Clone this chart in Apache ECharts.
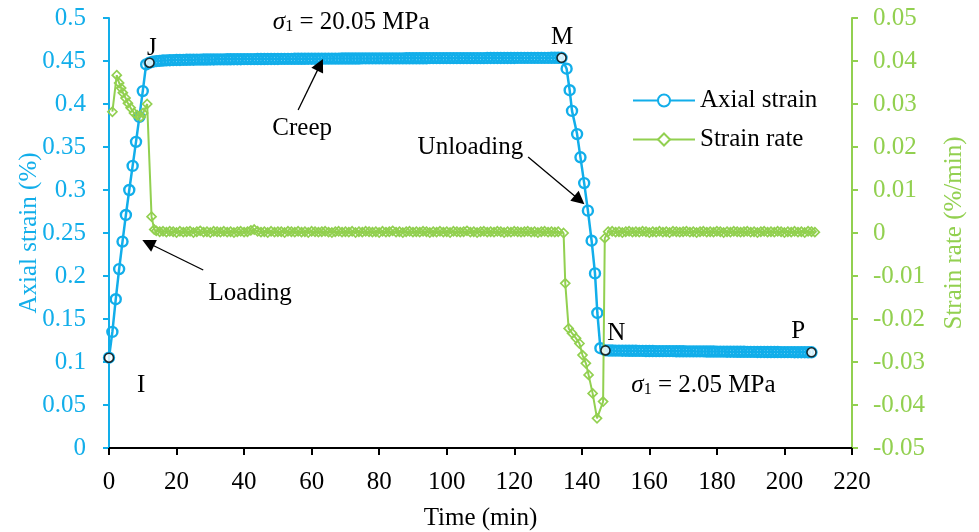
<!DOCTYPE html>
<html>
<head>
<meta charset="utf-8">
<script src="https://cdn.jsdelivr.net/npm/echarts@6/dist/echarts.min.js"></script>
<style>
  html, body { margin: 0; padding: 0; background: #fff; }
  #chart { width: 979px; height: 532px; }
</style>
</head>
<body>
<div id="chart"></div>
<script>
// ---- Axis ranges ----
const timeAxis = [0, 220, 20];          // min, max, step (min)
const strainAxis = [0, 0.5, 0.05];      // axial strain (%)
const rateAxis = [-0.05, 0.05, 0.01];   // strain rate (%/min)

// ---- Axial strain (%) ----
// loading stage
const loadTime   = [0, 1, 2, 3, 4, 5, 6, 7, 8, 9, 10, 11, 12];
const loadStrain = [0.105, 0.135, 0.173, 0.208, 0.240, 0.271, 0.300, 0.328, 0.356, 0.385, 0.415, 0.446, 0.448];
// creep stage, logged every minute from t = 13 min up to M (t = 134 min)
const creepStart = 13;
const creepStrain = [
  0.4492, 0.4498, 0.4502, 0.4505, 0.4507, 0.4509, 0.4510, 0.4512, 0.4512, 0.4513,
  0.4514, 0.4515, 0.4515, 0.4516, 0.4516, 0.4517, 0.4517, 0.4518, 0.4518, 0.4519,
  0.4519, 0.4519, 0.4520, 0.4520, 0.4521, 0.4521, 0.4521, 0.4522, 0.4522, 0.4522,
  0.4522, 0.4523, 0.4523, 0.4523, 0.4524, 0.4524, 0.4524, 0.4524, 0.4525, 0.4525,
  0.4525, 0.4525, 0.4526, 0.4526, 0.4526, 0.4526, 0.4527, 0.4527, 0.4527, 0.4527,
  0.4527, 0.4528, 0.4528, 0.4528, 0.4528, 0.4528, 0.4529, 0.4529, 0.4529, 0.4529,
  0.4529, 0.4529, 0.4530, 0.4530, 0.4530, 0.4530, 0.4530, 0.4530, 0.4531, 0.4531,
  0.4531, 0.4531, 0.4531, 0.4531, 0.4531, 0.4532, 0.4532, 0.4532, 0.4532, 0.4532,
  0.4532, 0.4532, 0.4533, 0.4533, 0.4533, 0.4533, 0.4533, 0.4533, 0.4533, 0.4533,
  0.4534, 0.4534, 0.4534, 0.4534, 0.4534, 0.4534, 0.4534, 0.4534, 0.4534, 0.4535,
  0.4535, 0.4535, 0.4535, 0.4535, 0.4535, 0.4535, 0.4535, 0.4535, 0.4536, 0.4536,
  0.4536, 0.4536, 0.4536, 0.4536, 0.4536, 0.4536, 0.4536, 0.4536, 0.4537, 0.4537,
  0.4537, 0.4537
];
// unloading stage
const unloadTime   = [135.5, 136.4, 137.1, 138.6, 139.6, 140.7, 141.8, 142.9, 143.9, 144.6, 145.5];
const unloadStrain = [0.441, 0.416, 0.392, 0.365, 0.338, 0.308, 0.276, 0.241, 0.203, 0.157, 0.116];
// residual stage, logged every minute from N (t = 147 min) to P (t = 208 min)
const residualStart = 147;
const residualStrain = [
  0.1135,
  0.1133, 0.1133, 0.1132, 0.1132, 0.1131, 0.1131, 0.1130, 0.1130, 0.1130, 0.1129,
  0.1129, 0.1128, 0.1128, 0.1128, 0.1127, 0.1127, 0.1127, 0.1126, 0.1126, 0.1126,
  0.1125, 0.1125, 0.1125, 0.1124, 0.1124, 0.1124, 0.1123, 0.1123, 0.1123, 0.1122,
  0.1122, 0.1122, 0.1121, 0.1121, 0.1121, 0.1120, 0.1120, 0.1120, 0.1119, 0.1119,
  0.1119, 0.1118, 0.1118, 0.1118, 0.1117, 0.1117, 0.1117, 0.1116, 0.1116, 0.1116,
  0.1116, 0.1115, 0.1115, 0.1115, 0.1115, 0.1114, 0.1114, 0.1114, 0.1114, 0.1113,
  0.1113
];

// ---- Strain rate (%/min) ----
const rateLoadTime = [1.0, 2.3, 3.0, 3.6, 4.1, 4.9, 5.6, 6.4, 7.4, 8.3, 9.4, 10.1, 11.3, 12.6, 13.4];
const rateLoad     = [0.0282, 0.0367, 0.0349, 0.0337, 0.0326, 0.0314, 0.0302, 0.0291, 0.0279, 0.0274, 0.0270, 0.0279, 0.0300, 0.0038, 0.0008];
// creep stage, every minute from t = 14 to t = 133
const rateCreepStart = 14;
const rateCreep = [
  0.0005, 0.0003, 0.0004, 0.0002, 0.0004, 0.0003, 0.0001, 0.0004, 0.0002, 0.0003,
  0.0004, 0.0001, 0.0003, 0.0005, 0.0002, 0.0003, 0.0001, 0.0004, 0.0003, 0.0002,
  0.0004, 0.0002, 0.0003, 0.0001, 0.0003, 0.0004, 0.0002, 0.0003, 0.0006, 0.0008,
  0.0004, 0.0002, 0.0003, 0.0001, 0.0004, 0.0002, 0.0003, 0.0003, 0.0001, 0.0004,
  0.0003, 0.0002, 0.0004, 0.0002, 0.0003, 0.0001, 0.0004, 0.0003, 0.0002, 0.0003,
  0.0004, 0.0002, 0.0001, 0.0003, 0.0004, 0.0002, 0.0003, 0.0002, 0.0004, 0.0001,
  0.0003, 0.0002, 0.0004, 0.0003, 0.0002, 0.0003, 0.0001, 0.0004, 0.0002, 0.0003,
  0.0005, 0.0002, 0.0003, 0.0001, 0.0003, 0.0004, 0.0002, 0.0003, 0.0002, 0.0004,
  0.0003, 0.0001, 0.0003, 0.0002, 0.0004, 0.0002, 0.0003, 0.0001, 0.0004, 0.0003,
  0.0002, 0.0003, 0.0005, 0.0002, 0.0003, 0.0001, 0.0003, 0.0004, 0.0002, 0.0003,
  0.0002, 0.0004, 0.0003, 0.0001, 0.0003, 0.0002, 0.0004, 0.0003, 0.0002, 0.0003,
  0.0004, 0.0002, 0.0003, 0.0001, 0.0003, 0.0004, 0.0002, 0.0003, 0.0002, 0.0003
];
// unloading stage
const rateUnloadTime = [134.6, 135.1, 136.1, 137.1, 138.3, 139.3, 140.2, 141.2, 142.0, 143.2, 144.5, 146.3, 146.8, 147.8];
const rateUnload     = [0.0000, -0.0117, -0.0222, -0.0233, -0.0245, -0.0257, -0.0284, -0.0303, -0.0330, -0.0373, -0.0431, -0.0392, -0.0012, 0.0003];
// residual stage, every minute from t = 149 to t = 209
const rateResidualStart = 149;
const rateResidual = [
  0.0004, 0.0002, 0.0003, 0.0001, 0.0003, 0.0004, 0.0002, 0.0003, 0.0002, 0.0004,
  0.0003, 0.0001, 0.0003, 0.0002, 0.0004, 0.0002, 0.0003, 0.0001, 0.0004, 0.0003,
  0.0002, 0.0003, 0.0004, 0.0002, 0.0003, 0.0001, 0.0003, 0.0004, 0.0002, 0.0003,
  0.0002, 0.0004, 0.0003, 0.0001, 0.0003, 0.0002, 0.0004, 0.0003, 0.0002, 0.0003,
  0.0004, 0.0002, 0.0003, 0.0001, 0.0003, 0.0004, 0.0002, 0.0003, 0.0002, 0.0004,
  0.0003, 0.0001, 0.0003, 0.0002, 0.0004, 0.0002, 0.0003, 0.0001, 0.0004, 0.0003,
  0.0002
];

// ---- Key states I, J, M, N, P ----
const keyNames  = ['I', 'J', 'M', 'N', 'P'];
const keyTime   = [0, 12, 134, 147, 208];
const keyStrain = [0.105, 0.448, 0.4537, 0.1135, 0.1113];

// ---- Styling ----
const BLUE = '#12AEEA';
const GREEN = '#92D050';
const FONT = 'Liberation Serif';
const FS = 25;
const NOFILL = 'rgba(255,255,255,0)';

const pairs = (times, values) => times.map((t, i) => [t, values[i]]);
const everyMinute = (start, values) => values.map((v, i) => [start + i, v]);

const axialData = [].concat(
  pairs(loadTime, loadStrain),
  everyMinute(creepStart, creepStrain),
  pairs(unloadTime, unloadStrain),
  everyMinute(residualStart, residualStrain)
);
const rateData = [].concat(
  pairs(rateLoadTime, rateLoad),
  everyMinute(rateCreepStart, rateCreep),
  pairs(rateUnloadTime, rateUnload),
  everyMinute(rateResidualStart, rateResidual)
);
const keyData = keyTime.map((t, i) => ({ name: keyNames[i], value: [t, keyStrain[i]] }));

// arrows: [tail, head] in (time, axial strain)
const arrows = [
  [[56.0, 0.393], [62.5, 0.4455]],   // Creep
  [[27.9, 0.207], [11.6, 0.2384]],   // Loading
  [[124.1, 0.3384], [139.3, 0.2884]] // Unloading
];

// tick labels go through a rich style so the serif face is applied
const tickLabel = (color, fmt) => ({
  margin: 0,
  formatter: v => '{t|' + fmt(v) + '}',
  rich: { t: { fontFamily: FONT, fontSize: FS, color: color } }
});
const plain = v => String(+v.toFixed(4));
const rateFmt = v => (Math.abs(v) < 1e-9 ? '0' : v.toFixed(2));

const chart = echarts.init(document.getElementById('chart'), null, { renderer: 'canvas' });

const option = {
  animation: false,
  backgroundColor: '#fff',
  textStyle: { fontFamily: FONT },
  grid: { left: 109, right: 127, top: 18, bottom: 84, containLabel: false, outerBoundsMode: 'none' },
  legend: {
    data: [
      { name: 'Axial strain', itemStyle: { color: '#fff' } },
      { name: 'Strain rate', itemStyle: { color: '#fff' } }
    ],
    orient: 'vertical',
    left: 627,
    top: 83,
    itemWidth: 62,
    itemHeight: 15,
    itemGap: 14,
    textStyle: { fontFamily: FONT, fontSize: FS, color: '#000' },
    selectedMode: false
  },
  xAxis: {
    type: 'value',
    min: timeAxis[0], max: timeAxis[1], interval: timeAxis[2],
    name: 'Time (min)',
    nameLocation: 'middle',
    nameGap: 58,
    nameMoveOverlap: false,
    nameTextStyle: { fontFamily: FONT, fontSize: FS, color: '#000' },
    axisLine: { show: true, onZero: false, lineStyle: { color: '#000', width: 2 } },
    axisTick: { show: true, inside: false, length: 7, lineStyle: { color: '#000', width: 2 } },
    axisLabel: Object.assign(tickLabel('#000', plain), { margin: 22 }),
    splitLine: { show: false }
  },
  yAxis: [
    {
      type: 'value',
      position: 'left',
      min: strainAxis[0], max: strainAxis[1], interval: strainAxis[2],
      name: 'Axial strain (%)',
      nameLocation: 'middle',
      nameGap: 67,
      nameMoveOverlap: false,
      nameTextStyle: { fontFamily: FONT, fontSize: FS, color: BLUE },
      axisLine: { show: true, lineStyle: { color: BLUE, width: 2 } },
      axisTick: { show: true, inside: false, length: 6, lineStyle: { color: BLUE, width: 2 } },
      axisLabel: Object.assign(tickLabel(BLUE, plain), { margin: 23 }),
      splitLine: { show: false }
    },
    {
      type: 'value',
      position: 'right',
      min: rateAxis[0], max: rateAxis[1], interval: rateAxis[2],
      name: 'Strain rate (%/min)',
      nameLocation: 'middle',
      nameGap: 90,
      nameRotate: 90,
      nameMoveOverlap: false,
      nameTextStyle: { fontFamily: FONT, fontSize: FS, color: GREEN },
      axisLine: { show: true, lineStyle: { color: GREEN, width: 2 } },
      axisTick: { show: true, inside: false, length: 6, lineStyle: { color: GREEN, width: 2 } },
      axisLabel: Object.assign(tickLabel(GREEN, rateFmt), { margin: 21 }),
      splitLine: { show: false }
    }
  ],
  series: [
    {
      name: 'Axial strain',
      type: 'line',
      yAxisIndex: 0,
      data: axialData,
      symbol: 'circle',
      symbolSize: 10,
      showSymbol: true,
      color: BLUE,
      lineStyle: { color: BLUE, width: 2.5 },
      itemStyle: { color: NOFILL, borderColor: BLUE, borderWidth: 2.4 },
      emphasis: { disabled: true },
      z: 2
    },
    {
      name: 'Strain rate',
      type: 'line',
      yAxisIndex: 1,
      data: rateData,
      symbol: 'diamond',
      symbolSize: 9,
      showSymbol: true,
      color: GREEN,
      lineStyle: { color: GREEN, width: 2 },
      itemStyle: { color: NOFILL, borderColor: GREEN, borderWidth: 1.7 },
      emphasis: { disabled: true },
      z: 3
    },
    {
      name: 'Key states',
      type: 'scatter',
      yAxisIndex: 0,
      data: keyData,
      symbol: 'circle',
      symbolSize: 9,
      itemStyle: { color: '#fff', borderColor: '#000', borderWidth: 1.6 },
      emphasis: { disabled: true },
      silent: true,
      z: 4,
      markLine: {
        silent: true,
        symbol: ['none', 'triangle'],
        symbolSize: 13,
        lineStyle: { color: '#000', width: 1.3, type: 'solid' },
        label: { show: false },
        emphasis: { disabled: true },
        data: arrows.map(a => [{ coord: a[0] }, { coord: a[1] }])
      }
    }
  ]
};

chart.setOption(option);

// text annotations, anchored at (time, axial strain)
const sigmaRich = {
  s: { fontFamily: FONT, fontSize: FS, fontStyle: 'italic', fill: '#000' },
  b: { fontFamily: FONT, fontSize: 16, lineHeight: 10, verticalAlign: 'bottom', fill: '#000' },
  t: { fontFamily: FONT, fontSize: FS, fill: '#000' }
};
const notes = [
  { text: '{s|σ}{b|1}{t| = 20.05 MPa}', at: [71.7, 0.4953], rich: true },
  { text: '{s|σ}{b|1}{t| = 2.05 MPa}',  at: [176.0, 0.0733], rich: true },
  { text: 'J', at: [12.7, 0.465] },
  { text: 'M', at: [134.2, 0.477] },
  { text: 'Creep', at: [57.2, 0.372] },
  { text: 'Unloading', at: [107.0, 0.350] },
  { text: 'Loading', at: [41.8, 0.180] },
  { text: 'I', at: [9.5, 0.0730] },
  { text: 'N', at: [150.2, 0.133] },
  { text: 'P', at: [204.1, 0.135] }
];

chart.setOption({
  graphic: notes.map(n => {
    const p = chart.convertToPixel({ xAxisIndex: 0, yAxisIndex: 0 }, n.at);
    const style = {
      text: n.text,
      fontFamily: FONT,
      fontSize: FS,
      fill: '#000',
      align: 'center',
      verticalAlign: 'middle'
    };
    if (n.rich) style.rich = sigmaRich;
    return { type: 'text', x: p[0], y: p[1], silent: true, z: 10, style };
  })
});
</script>
</body>
</html>
